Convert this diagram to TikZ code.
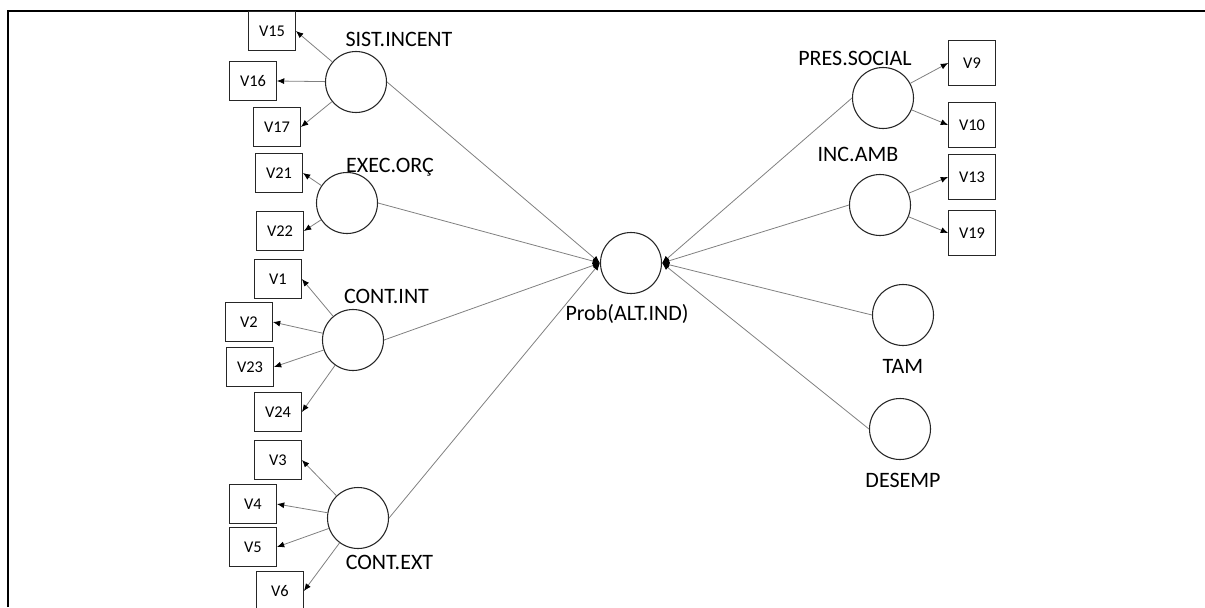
\documentclass[tikz,border=0pt]{standalone}
\usepackage{fontspec}
\setmainfont{Carlito}
\usetikzlibrary{arrows.meta}
\tikzset{
  lat/.style={circle, draw=black!85, line width=0.8pt, minimum size=45.75pt, inner sep=0pt},
  ind/.style={draw=black!85, line width=0.6pt, minimum width=35.25pt, minimum height=29.25pt, inner sep=0pt, font=\fontsize{12.3}{14}\selectfont},
  indr/.style={ind, minimum height=33.75pt},
  lab/.style={font=\fontsize{16.5}{18}\selectfont, anchor=base, inner sep=0pt, text=black},
  conn/.style={draw=black!50, line width=0.6pt, -{Latex[length=5.5pt,width=4.5pt,color=black]}},
  frameline/.style={line width=1.7pt, black}
}
\begin{document}
\begin{tikzpicture}[x=0.75pt,y=-0.75pt]
\useasboundingbox (0,0) rectangle (1205,607);
\draw[frameline] (7.8,607) -- (7.8,11) -- (1205,11);

% latent variables
\node[lat] (si) at (356,82) {};
\node[lat] (ex) at (347,203) {};
\node[lat] (ci) at (353,340) {};
\node[lat] (ce) at (358,518) {};
\node[lat] (ps) at (883,98) {};
\node[lat] (ia) at (880,205) {};
\node[lat] (tam) at (903,315) {};
\node[lat] (des) at (900,429) {};
\node[lat] (pr) at (631,263) {};

% labels
\node[lab] (lsi) at (399,46) {SIST.INCENT};
\node[lab] (lex) at (390,172) {EXEC.ORÇ};
\node[lab] (lci) at (386.5,303) {CONT.INT};
\node[lab] (lce) at (389.5,569) {CONT.EXT};
\node[lab] (lps) at (855,65) {PRES.SOCIAL};
\node[lab] (lia) at (858,161) {INC.AMB};
\node[lab] (lpr) at (627,320) {Prob(ALT.IND)};
\node[lab] (ltam) at (903,373) {TAM};
\node[lab] (ldes) at (903,487) {DESEMP};

% indicators left
\node[ind] (v15) at (272,31) {V15};
\node[ind] (v16) at (253,81) {V16};
\node[ind] (v17) at (277,127) {V17};
\node[ind] (v21) at (279,173) {V21};
\node[ind] (v22) at (280,231) {V22};
\node[ind] (v1) at (278,279) {V1};
\node[ind] (v2) at (249,322) {V2};
\node[ind] (v23) at (250,367) {V23};
\node[ind] (v24) at (278,412) {V24};
\node[ind] (v3) at (278,460) {V3};
\node[ind] (v4) at (253,504) {V4};
\node[ind] (v5) at (253,547) {V5};
\node[ind] (v6) at (280,591) {V6};

% indicators right
\node[indr] (v9) at (972,63) {V9};
\node[indr] (v10) at (972,125) {V10};
\node[indr] (v13) at (972,177) {V13};
\node[indr] (v19) at (972,233) {V19};

% measurement arrows
\draw[conn] (si) -- (v15.east);
\draw[conn] (si) -- (v16.east);
\draw[conn] (si) -- (v17.east);
\draw[conn] (ex) -- (v21.east);
\draw[conn] (ex) -- (v22.east);
\draw[conn] (ci) -- (v1.east);
\draw[conn] (ci) -- (v2.east);
\draw[conn] (ci) -- (v23.east);
\draw[conn] (ci) -- (v24.east);
\draw[conn] (ce) -- (v3.east);
\draw[conn] (ce) -- (v4.east);
\draw[conn] (ce) -- (v5.east);
\draw[conn] (ce) -- (v6.east);
\draw[conn] (ps) -- (v9.west);
\draw[conn] (ps) -- (v10.west);
\draw[conn] (ia) -- (v13.west);
\draw[conn] (ia) -- (v19.west);

% structural arrows
\draw[conn] (si.east) -- (pr.west);
\draw[conn] (ex.east) -- (pr.west);
\draw[conn] (ci.east) -- (pr.west);
\draw[conn] (ce.east) -- (pr.west);
\draw[conn] (ps.west) -- (pr.east);
\draw[conn] (ia.west) -- (pr.east);
\draw[conn] (tam.west) -- (pr.east);
\draw[conn] (des.west) -- (pr.east);
\end{tikzpicture}
\end{document}
